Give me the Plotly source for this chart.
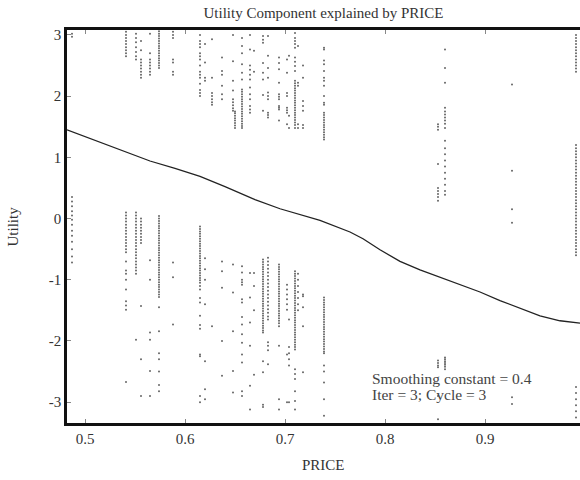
import plotly.graph_objects as go

# Observed price levels (x) and the utility values seen at each level (y)
prices = [0.487, 0.541, 0.551, 0.556, 0.565, 0.574, 0.588, 0.615, 0.62, 0.627,
          0.637, 0.648, 0.65, 0.657, 0.665, 0.669, 0.678, 0.683, 0.694, 0.702,
          0.704, 0.71, 0.713, 0.718, 0.739, 0.853, 0.86, 0.927, 0.991]

utility_at_price = [
    [3.02, 2.97, 0.35, 0.28, 0.2, 0.12, 0.05, -0.02, -0.1, -0.2, -0.28, -0.38, -0.5, -0.62, -0.72],
    [3.05, 3.0, 2.95, 2.9, 2.85, 2.8, 2.75, 2.7, 2.65, 0.1, 0.05, 0.0, -0.05, -0.1, -0.15, -0.2, -0.25,
     -0.3, -0.35, -0.4, -0.45, -0.5, -0.55, -0.7, -0.85, -0.9, -1.0, -1.16, -1.35, -1.42, -1.49, -2.67],
    [3.02, 2.95, 2.88, 2.8, 2.72, 2.65, 2.6, 0.1, 0.05, 0.0, -0.05, -0.1, -0.15, -0.2, -0.25, -0.3,
     -0.35, -0.4, -0.45, -0.5, -0.55, -0.6, -0.65, -0.7, -0.75, -0.8, -0.85, -0.9, -1.98],
    [2.9, 2.75, 2.6, 2.55, 2.5, 2.45, 2.4, 2.35, 2.3, 0.0, -0.05, -0.1, -0.15, -0.2, -0.25, -0.3,
     -0.35, -0.4, -1.43, -2.3, -2.9],
    [3.02, 2.7, 2.6, 2.55, 2.5, 2.45, 2.4, 2.35, -0.68, -1.0, -1.86, -1.98, -2.49, -2.9],
    [3.06, 3.02, 2.98, 2.94, 2.9, 2.86, 2.82, 2.78, 2.74, 2.7, 2.66, 2.62, 2.58, 2.54, 2.5, 2.46,
     0.04, 0.0, -0.04, -0.08, -0.12, -0.16, -0.2, -0.24, -0.28, -0.32, -0.36, -0.4, -0.44, -0.48,
     -0.52, -0.56, -0.6, -0.64, -0.68, -0.72, -0.76, -0.8, -0.84, -0.88, -0.92, -0.96, -1.0, -1.04,
     -1.08, -1.12, -1.16, -1.2, -1.24, -1.28, -1.45, -1.84, -2.2, -2.3, -2.5, -2.72, -2.82],
    [3.05, 3.0, 2.95, 2.6, 2.55, 2.4, 2.35, -0.72, -0.96, -1.73],
    [3.0, 2.9, 2.85, 2.8, 2.7, 2.65, 2.6, 2.5, 2.4, 2.35, 2.3, 2.2, 2.1, 2.05, 2.0,
     -0.13, -0.17, -0.21, -0.25, -0.29, -0.33, -0.37, -0.41, -0.45, -0.49, -0.53, -0.57, -0.61,
     -0.65, -0.69, -0.73, -0.77, -0.81, -0.85, -0.89, -0.93, -0.97, -1.01, -1.05, -1.1, -1.16,
     -1.3, -1.37, -1.59, -1.74, -1.8, -2.22, -2.25, -2.9, -3.0],
    [2.85, 2.55, 2.3, 2.25, -0.65, -0.83, -1.0, -1.4, -2.33, -2.79, -2.95],
    [2.93, 2.3, 2.05, 2.0, 1.95, 1.9, 1.86, -1.76],
    [2.63, 2.41, 2.35, 2.17, 2.03, 1.95, -0.7, -0.86, -1.13, -2.0, -2.57],
    [3.0, 2.57, 2.25, 2.09, 1.95, 1.9, 1.85, 1.8, 1.76, -0.75, -1.21, -1.84, -2.49, -2.84],
    [1.75, 1.72, 1.68, 1.64, 1.6, 1.56, 1.52, 1.48],
    [2.95, 2.82, 2.7, 2.52, 2.38, 2.27, 2.11, 2.07, 2.03, 1.99, 1.95, 1.91, 1.87, 1.83, 1.79, 1.75,
     1.71, 1.67, 1.63, 1.59, 1.55, 1.51, 1.48, -0.78, -0.88, -1.0, -1.04, -1.08, -1.32, -1.37,
     -1.61, -1.73, -1.89, -2.03, -2.22, -2.35, -2.82, -2.9],
    [3.0, 2.76, 2.5, 2.43, 2.35, 2.27, 2.14, 2.03, 1.95, 1.84, 1.78, 1.73, -0.89, -1.29, -1.7,
     -2.08, -2.73, -3.12],
    [2.74, 2.4, -0.89, -1.1, -1.5, -2.55],
    [2.98, 2.92, 2.87, 2.54, 2.38, 2.27, 2.02, 1.76,
     -0.67, -0.71, -0.75, -0.79, -0.83, -0.87, -0.91, -0.95, -0.99, -1.03, -1.07, -1.11, -1.15,
     -1.19, -1.23, -1.27, -1.31, -1.35, -1.39, -1.43, -1.47, -1.51, -1.55, -1.59, -1.63, -1.67,
     -1.71, -1.75, -1.79, -1.83, -1.86, -2.33, -2.51, -3.04, -3.08],
    [2.98, 2.66, 2.46, 2.3, 2.06, 2.0, 1.95, 1.73, 1.69, 1.65,
     -0.64, -0.7, -0.76, -0.82, -0.88, -0.94, -1.0, -1.06, -1.12, -1.18, -1.24, -1.3, -1.36,
     -1.42, -1.48, -1.54, -1.6, -1.65, -2.02, -2.08, -2.15, -2.38],
    [2.63, 2.54, 2.44, 2.22, 2.03, 1.99, 1.95, 1.84, 1.81, 1.78, 1.6,
     -0.75, -0.79, -0.83, -0.87, -0.91, -0.95, -0.99, -1.03, -1.07, -1.11, -1.15, -1.19, -1.23,
     -1.27, -1.31, -1.35, -1.39, -1.43, -1.47, -1.51, -1.55, -1.59, -1.63, -1.67, -1.71, -1.76,
     -2.08, -2.95, -3.12],
    [2.6, 2.38, 2.05, 2.0, 1.81, 1.77, 1.73, 1.54, -1.08, -1.16, -1.24, -1.32, -1.4, -1.49,
     -2.22, -3.0],
    [2.66, 1.68, 1.48, -1.65, -2.1, -2.2, -2.3, -2.4, -3.0],
    [3.03, 2.95, 2.9, 2.85, 2.79, 2.63, 2.56, 2.49, 2.41,
     2.25, 2.21, 2.17, 2.13, 2.09, 2.05, 2.01, 1.97, 1.93, 1.89, 1.85, 1.81, 1.77, 1.73, 1.69,
     1.65, 1.61, 1.57, 1.53, 1.48,
     -0.86, -0.9, -0.94, -0.98, -1.02, -1.06, -1.1, -1.14, -1.18, -1.22, -1.26, -1.3, -1.34,
     -1.38, -1.42, -1.46, -1.5, -1.54, -1.58, -1.62, -1.66, -1.7, -1.74, -1.78, -1.82, -1.86,
     -1.9, -1.94, -1.98, -2.02, -2.06, -2.1, -2.14, -2.46, -2.54, -2.62, -2.82, -2.98, -3.12],
    [2.82, 2.22, 2.17, 1.54, 1.48, -0.9, -1.0, -1.1, -1.2, -1.3, -1.4, -1.5],
    [2.5, 2.3, 1.92, 1.84, 1.76, 1.53, 1.48, -1.24, -1.27, -1.45, -1.76, -2.51],
    [2.79, 2.76, 2.58, 2.52, 2.41, 2.3, 2.25, 2.17, 2.0, 1.89, 1.86,
     1.73, 1.69, 1.65, 1.61, 1.57, 1.53, 1.49, 1.45, 1.41, 1.37, 1.33, 1.29,
     -1.29, -1.33, -1.37, -1.41, -1.45, -1.49, -1.53, -1.57, -1.61, -1.65, -1.69, -1.73, -1.77,
     -1.81, -1.85, -1.89, -1.93, -1.97, -2.01, -2.05, -2.09, -2.13, -2.17, -2.2,
     -2.4, -2.5, -2.68, -2.95, -3.22],
    [1.54, 1.5, 1.45, 0.89, 0.5, 0.45, 0.4, 0.35, 0.29, -2.32, -2.36, -2.4, -2.43, -2.9, -3.28],
    [2.76, 2.46, 2.22, 1.81, 1.75, 1.7, 1.65, 1.6, 1.55, 1.48, 1.27, 1.15, 1.05, 0.95, 0.85,
     0.75, 0.65, 0.55, 0.45, 0.39, -2.27, -2.3, -2.33, -2.36, -2.39, -2.42, -2.46],
    [2.19, 0.78, 0.15, -0.07, -2.92, -3.03],
    [3.0, 2.95, 2.9, 2.85, 2.8, 2.75, 2.7, 2.65, 2.6, 2.55, 2.5, 2.45, 2.4,
     1.2, 1.15, 1.1, 1.05, 1.0, 0.95, 0.9, 0.85, 0.8, 0.75, 0.7, 0.65, 0.6, 0.55, 0.5, 0.45,
     0.4, 0.35, 0.3, 0.25, 0.2, 0.15, 0.1, 0.05, 0.0, -0.05, -0.1, -0.15, -0.2, -0.25, -0.3,
     -0.35, -0.4, -0.45, -0.5, -0.55, -0.6, -2.75, -2.85, -2.95, -3.05, -3.15, -3.25],
]

# Smoothed utility component
curve_price = [0.482, 0.5, 0.515, 0.54, 0.565, 0.59, 0.615, 0.64, 0.67, 0.695, 0.715,
               0.735, 0.765, 0.778, 0.795, 0.815, 0.835, 0.855, 0.875, 0.895, 0.915,
               0.935, 0.955, 0.975, 0.995]
curve_utility = [1.45, 1.34, 1.24, 1.09, 0.94, 0.82, 0.69, 0.52, 0.31, 0.16, 0.07,
                 -0.03, -0.22, -0.33, -0.51, -0.70, -0.84, -0.96, -1.07, -1.20, -1.34,
                 -1.47, -1.59, -1.67, -1.71]

x_ticks = [0.5, 0.6, 0.7, 0.8, 0.9]
y_ticks = [3, 2, 1, 0, -1, -2, -3]
y_tick_text = ["3", "2", "1", "0", "-1", "-2", "-3"]

px_all, uy_all = [], []
for p, ys in zip(prices, utility_at_price):
    px_all.extend([p] * len(ys))
    uy_all.extend(ys)

font = "Liberation Serif, Times New Roman, serif"
fig = go.Figure()
fig.add_trace(go.Scatter(x=px_all, y=uy_all, mode="markers",
                         marker=dict(size=2, color="#666666", line=dict(width=0)),
                         hoverinfo="skip", showlegend=False))
fig.add_trace(go.Scatter(x=curve_price, y=curve_utility, mode="lines",
                         line=dict(color="#222222", width=1.3),
                         showlegend=False))

fig.update_layout(
    width=580, height=480,
    margin=dict(l=67, r=0, t=30, b=57),
    paper_bgcolor="white", plot_bgcolor="white",
    font=dict(family=font, size=15, color="#333333"),
    title=dict(text="Utility Component explained by PRICE", x=0.5, xref="paper",
               y=1 - 13 / 480, yref="container", yanchor="middle",
               font=dict(family=font, size=15, color="#333333")),
    xaxis=dict(range=[0.482, 0.995], tickvals=x_ticks, ticktext=[str(v) for v in x_ticks],
               showgrid=False, zeroline=False, showline=True, linecolor="#111111",
               linewidth=2.5, mirror="ticks", ticks="inside", ticklen=4, tickcolor="#888888",
               tickfont=dict(family=font, size=15, color="#333333")),
    yaxis=dict(range=[-3.34, 3.08], tickvals=y_ticks, ticktext=y_tick_text,
               showgrid=False, zeroline=False, showline=True, linecolor="#111111",
               linewidth=2.5, ticks="inside", ticklen=4, tickcolor="#888888",
               tickfont=dict(family=font, size=15, color="#333333")),
    annotations=[
        dict(text="PRICE", xref="paper", yref="paper", x=0.5, y=(423 - 465) / 393,
             showarrow=False, font=dict(family=font, size=15, color="#333333"),
             yanchor="middle"),
        dict(text="Utility", xref="paper", yref="paper", x=(12 - 67) / 513, y=0.5,
             textangle=-90, showarrow=False, font=dict(family=font, size=15, color="#333333"),
             xanchor="center"),
        dict(text="Smoothing constant = 0.4", xref="x", yref="y", x=0.785, y=-2.61,
             xanchor="left", yanchor="middle", showarrow=False,
             font=dict(family=font, size=15.5, color="#444444")),
        dict(text="Iter = 3; Cycle = 3", xref="x", yref="y", x=0.785, y=-2.87,
             xanchor="left", yanchor="middle", showarrow=False,
             font=dict(family=font, size=15.5, color="#444444")),
    ],
)

fig.write_html("out.html")
